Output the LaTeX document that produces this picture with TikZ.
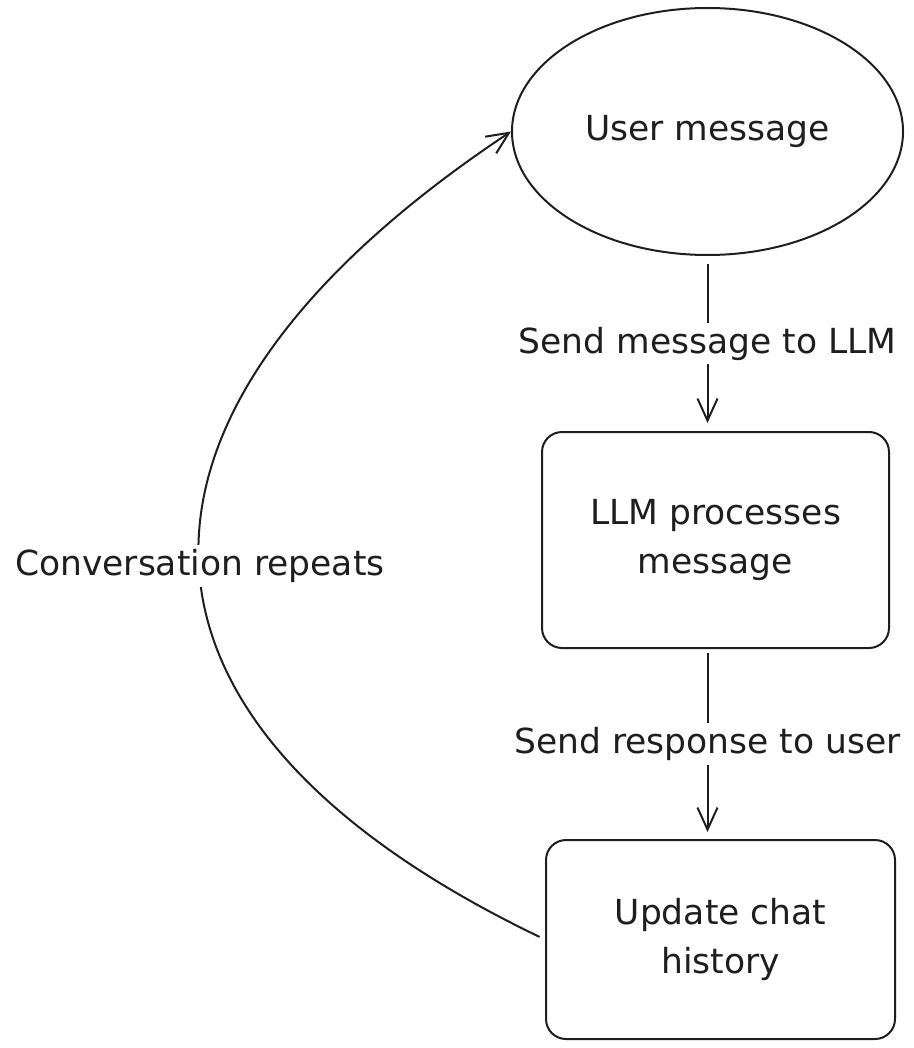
\documentclass[tikz,border=0pt]{standalone}
\usepackage{fontspec}
\setmainfont{DejaVu Sans}
\usetikzlibrary{shapes.geometric,arrows.meta,calc}
\definecolor{ink}{HTML}{1E1E1E}
\begin{document}
\begin{tikzpicture}[x=1pt,y=-1pt,
  lbl/.style={font=\fontsize{34.5}{49}\selectfont, text=ink, align=center},
  ellnode/.style={ellipse, draw=ink, line width=2pt, minimum width=391pt, minimum height=247pt, inner sep=0pt},
  boxnode/.style={rectangle, rounded corners=20pt, draw=ink, line width=2pt, inner sep=0pt},
  arr/.style={draw=ink, line width=2pt, -{Straight Barb[length=22pt,width=20pt]}},
  edgelbl/.style={lbl, fill=white, inner sep=4pt}]
\useasboundingbox (0,0) rectangle (913,1048);
\node[ellnode, lbl] (user) at (707.5,131.5) {User message};
\node[boxnode, lbl, minimum width=347pt, minimum height=216pt] (llm) at (715.5,540) {LLM processes\\message};
\node[boxnode, lbl, minimum width=349pt, minimum height=199pt] (upd) at (720.5,939.5) {Update chat\\history};
\draw[arr, shorten <=8pt, shorten >=8pt] (user.south) -- (user.south |- llm.north)
  node[pos=0.5, edgelbl] (l1) {Send message to LLM};
\draw[arr, shorten <=4pt, shorten >=7pt] (user.south |- llm.south) -- (user.south |- upd.north)
  node[pos=0.5, edgelbl] (l2) {Send response to user};
\draw[arr, shorten <=6pt] (upd.west) .. controls (88,720) and (92,410) .. (user.west)
  node[pos=0.49, edgelbl] (l3) {Conversation repeats};
\end{tikzpicture}
\end{document}
